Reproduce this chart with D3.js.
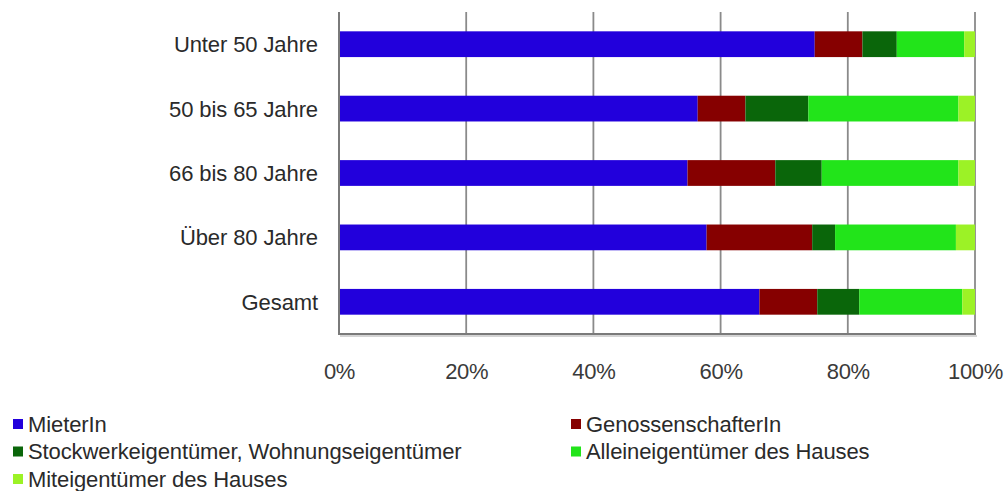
<!DOCTYPE html>
<html>
<head>
<meta charset="utf-8">
<script src="https://cdn.jsdelivr.net/npm/d3@7"></script>
<style>
  html, body { margin: 0; padding: 0; background: #fff; }
  svg { display: block; font-family: "Liberation Sans", Arial, sans-serif; }
</style>
</head>
<body>
<svg id="chart" width="1005" height="491"></svg>
<script>
// Age groups (top to bottom)
const categories = ["Unter 50 Jahre", "50 bis 65 Jahre", "66 bis 80 Jahre", "Über 80 Jahre", "Gesamt"];

// Housing tenure series, share in percent per age group
const seriesNames = [
  "MieterIn",
  "GenossenschafterIn",
  "Stockwerkeigentümer, Wohnungseigentümer",
  "Alleineigentümer des Hauses",
  "Miteigentümer des Hauses"
];
const mieter        = [74.8, 56.4, 54.8, 57.8, 66.1];
const genossen      = [7.5, 7.5, 13.8, 16.6, 9.1];
const stockwerk     = [5.4, 9.9, 7.3, 3.6, 6.6];
const alleineigent  = [10.6, 23.6, 21.5, 19.0, 16.2];
const miteigent     = [1.7, 2.6, 2.6, 3.0, 2.0];

const tickValues = [0, 20, 40, 60, 80, 100];

const colors = ["#2200dc", "#860000", "#0a660a", "#22e41a", "#9cf226"];

const seriesValues = [mieter, genossen, stockwerk, alleineigent, miteigent];
const rows = categories.map((c, i) => {
  const r = { category: c };
  seriesNames.forEach((s, j) => { r[s] = seriesValues[j][i]; });
  return r;
});

const svg = d3.select("#chart");
const plot = { left: 339, right: 975, top: 12, bottom: 334 };
const fontSize = 22;

const x = d3.scaleLinear().domain([0, 100]).range([plot.left, plot.right]);
const y = d3.scaleBand().domain(categories).range([plot.top, plot.bottom])
  .paddingInner(0.6).paddingOuter(0.3);

const stack = d3.stack().keys(seriesNames).offset(d3.stackOffsetExpand);
const stacked = stack(rows);

// Vertical gridlines
svg.append("g")
  .selectAll("line")
  .data(tickValues.slice(1))
  .join("line")
  .attr("x1", d => x(d)).attr("x2", d => x(d))
  .attr("y1", plot.top).attr("y2", plot.bottom)
  .attr("stroke", "#8a8a8a").attr("stroke-width", 1.8);

// Stacked bars
svg.append("g")
  .selectAll("g")
  .data(stacked)
  .join("g")
  .attr("fill", (d, i) => colors[i])
  .selectAll("rect")
  .data(d => d)
  .join("rect")
  .attr("x", d => x(d[0] * 100))
  .attr("width", d => x(d[1] * 100) - x(d[0] * 100))
  .attr("y", d => y(d.data.category))
  .attr("height", y.bandwidth());

// Axis frame: left and bottom lines with a soft shadow
svg.append("line")
  .attr("x1", plot.left + 1).attr("x2", plot.right + 2)
  .attr("y1", plot.bottom + 2).attr("y2", plot.bottom + 2)
  .attr("stroke", "#d4d4d4").attr("stroke-width", 2);
svg.append("line")
  .attr("x1", plot.left).attr("x2", plot.left)
  .attr("y1", plot.top).attr("y2", plot.bottom)
  .attr("stroke", "#7a7a7a").attr("stroke-width", 2);
svg.append("line")
  .attr("x1", plot.left - 1).attr("x2", plot.right + 1)
  .attr("y1", plot.bottom).attr("y2", plot.bottom)
  .attr("stroke", "#7a7a7a").attr("stroke-width", 2);

// X axis tick labels
const xAxis = d3.axisBottom(x).tickValues(tickValues).tickFormat(d => d + "%").tickSize(0).tickPadding(0);
const gx = svg.append("g").attr("transform", `translate(0, 379)`).call(xAxis);
gx.select(".domain").remove();
gx.selectAll("text")
  .attr("dy", 0)
  .attr("font-size", fontSize)
  .attr("font-family", "Liberation Sans, Arial, sans-serif")
  .attr("fill", "#3a3a3a")
  .attr("letter-spacing", -0.3);

// Y axis category labels
const yAxis = d3.axisLeft(y).tickSize(0).tickPadding(21);
const gy = svg.append("g").attr("transform", `translate(${plot.left}, 0)`).call(yAxis);
gy.select(".domain").remove();
gy.selectAll("text")
  .attr("font-size", fontSize)
  .attr("font-family", "Liberation Sans, Arial, sans-serif")
  .attr("fill", "#2a2a2a")
  .attr("letter-spacing", -0.1)
  .attr("dy", "0.36em");

// Legend: two columns, filled row by row
const legendCols = [13, 571];
const legendRows = [424, 451.5, 479];
const legend = svg.append("g");
seriesNames.forEach((name, i) => {
  const col = i % 2, row = Math.floor(i / 2);
  const g = legend.append("g")
    .attr("transform", `translate(${legendCols[col]}, ${legendRows[row]})`);
  g.append("rect")
    .attr("x", 0).attr("y", -5).attr("width", 10).attr("height", 10)
    .attr("fill", colors[i]);
  g.append("text")
    .attr("x", 15).attr("y", 0).attr("dy", "0.36em")
    .attr("font-size", fontSize)
    .attr("fill", "#2a2a2a")
    .attr("letter-spacing", -0.1)
    .text(name);
});
</script>
</body>
</html>
